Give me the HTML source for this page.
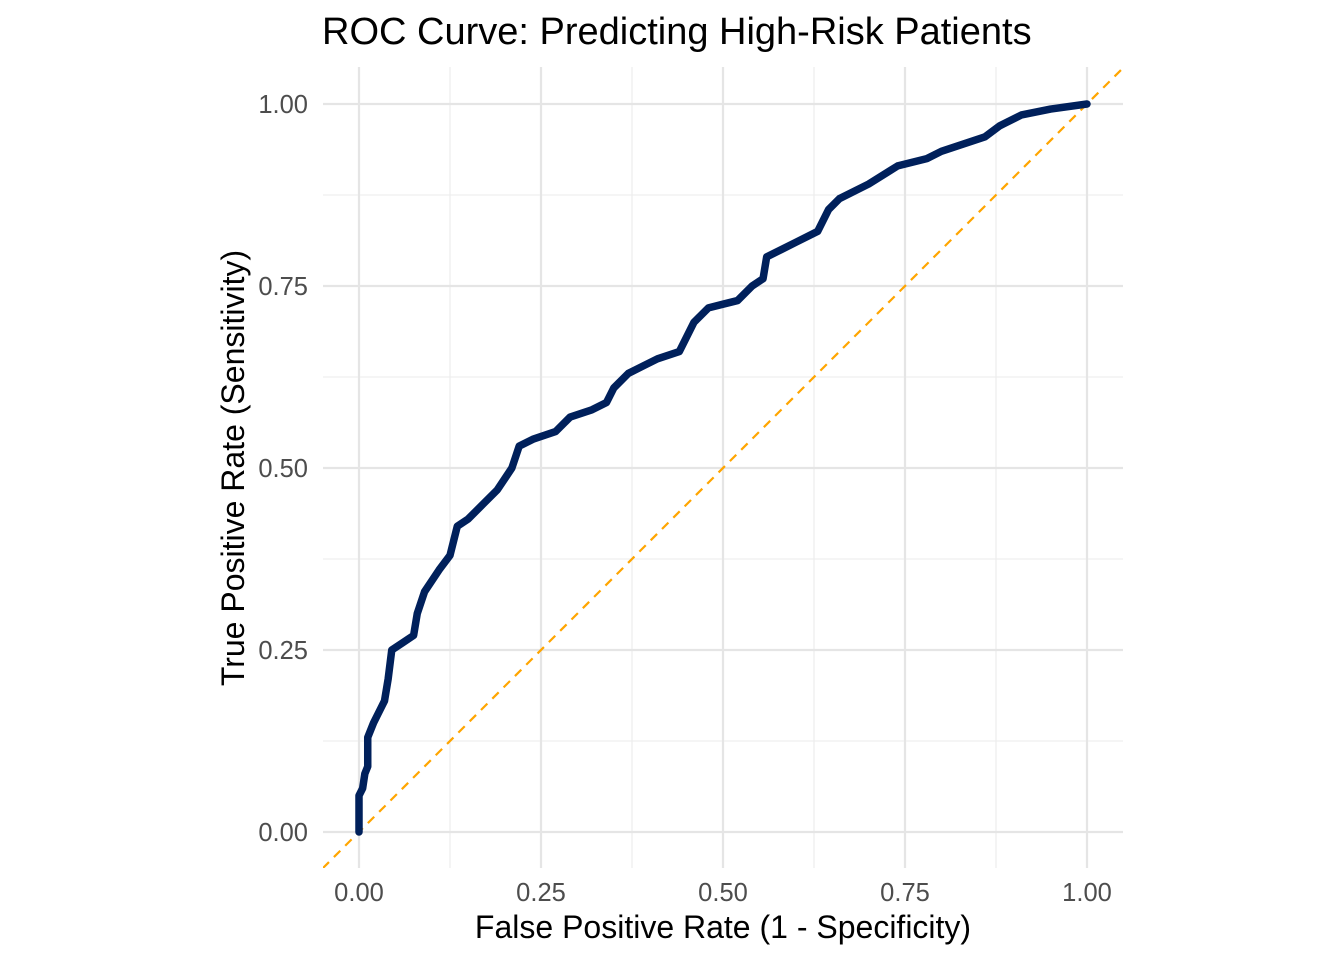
<!DOCTYPE html>
<html><head><meta charset="utf-8"><style>
body{margin:0;background:#fff;}
svg text{font-family:"Liberation Sans",Arial,sans-serif;}
</style></head><body>
<svg width="1344" height="960" viewBox="0 0 1344 960" xmlns="http://www.w3.org/2000/svg">
<defs><clipPath id="pc"><rect x="323" y="67" width="800" height="801"/></clipPath></defs>
<rect width="1344" height="960" fill="#fff"/>
<g id="grid"></g>
<g id="marks" clip-path="url(#pc)"></g>
<g id="ticks"></g>
<text x="322" y="44" font-size="38" fill="#000">ROC Curve: Predicting High-Risk Patients</text>
<text x="723" y="938" font-size="32" text-anchor="middle" fill="#000">False Positive Rate (1 - Specificity)</text>
<text transform="translate(244,468) rotate(-90)" font-size="32" text-anchor="middle" fill="#000">True Positive Rate (Sensitivity)</text>
</svg>
<script>
const fpr=[0,0,0.005,0.008,0.012,0.012,0.02,0.03,0.035,0.04,0.045,0.06,0.075,0.08,0.09,0.11,0.125,0.135,0.15,0.17,0.19,0.21,0.22,0.24,0.27,0.29,0.32,0.34,0.35,0.37,0.39,0.41,0.44,0.46,0.48,0.5,0.52,0.54,0.555,0.56,0.58,0.6,0.63,0.645,0.66,0.7,0.74,0.78,0.8,0.83,0.86,0.88,0.91,0.95,1];
const tpr=[0,0.05,0.06,0.08,0.09,0.13,0.15,0.17,0.18,0.21,0.25,0.26,0.27,0.30,0.33,0.36,0.38,0.42,0.43,0.45,0.47,0.50,0.53,0.54,0.55,0.57,0.58,0.59,0.61,0.63,0.64,0.65,0.66,0.70,0.72,0.725,0.73,0.75,0.76,0.79,0.80,0.81,0.825,0.855,0.87,0.89,0.915,0.925,0.935,0.945,0.955,0.97,0.985,0.993,1];
const majorTicks=[0,0.25,0.5,0.75,1];
const tickLabels=["0.00","0.25","0.50","0.75","1.00"];
const minorTicks=[0.125,0.375,0.625,0.875];
const NS="http://www.w3.org/2000/svg";
const xs=v=>359+v*728, ys=v=>832-v*728;
function mk(tag,at,parent){const e=document.createElementNS(NS,tag);for(const k in at)e.setAttribute(k,at[k]);document.getElementById(parent).appendChild(e);return e;}
minorTicks.forEach(t=>{
 let a=mk('line',{x1:xs(t),x2:xs(t),y1:67,y2:868,stroke:'#ebebeb','stroke-width':1.1},'grid');
 
 
 let b=mk('line',{x1:323,x2:1123,y1:ys(t),y2:ys(t),stroke:'#ebebeb','stroke-width':1.1},'grid');
 
 
});
majorTicks.forEach((t,i)=>{
 let a=mk('line',{x1:xs(t),x2:xs(t),y1:67,y2:868,stroke:'#e5e5e5','stroke-width':2.2},'grid');
 
 
 let b=mk('line',{x1:323,x2:1123,y1:ys(t),y2:ys(t),stroke:'#e5e5e5','stroke-width':2.2},'grid');
 
 
 let tx=mk('text',{x:xs(t),y:901,'font-size':25.5,'text-anchor':'middle',fill:'#4d4d4d'},'ticks');
 tx.textContent=tickLabels[i];
 
 
 let ty=mk('text',{x:308,y:ys(t)+9,'font-size':25.5,'text-anchor':'end',fill:'#4d4d4d'},'ticks');
 ty.textContent=tickLabels[i];
 
 
});
let d=mk('line',{x1:xs(-0.05),y1:ys(-0.05),x2:xs(1.05),y2:ys(1.05),stroke:'#FFA500','stroke-width':2.2,'stroke-dasharray':'9 7'},'marks');


let p=mk('polyline',{points:fpr.map((v,i)=>xs(v)+','+ys(tpr[i])).join(' '),fill:'none',stroke:'#00205B','stroke-width':7.5,'stroke-linejoin':'round','stroke-linecap':'round'},'marks');


</script>
</body></html>
